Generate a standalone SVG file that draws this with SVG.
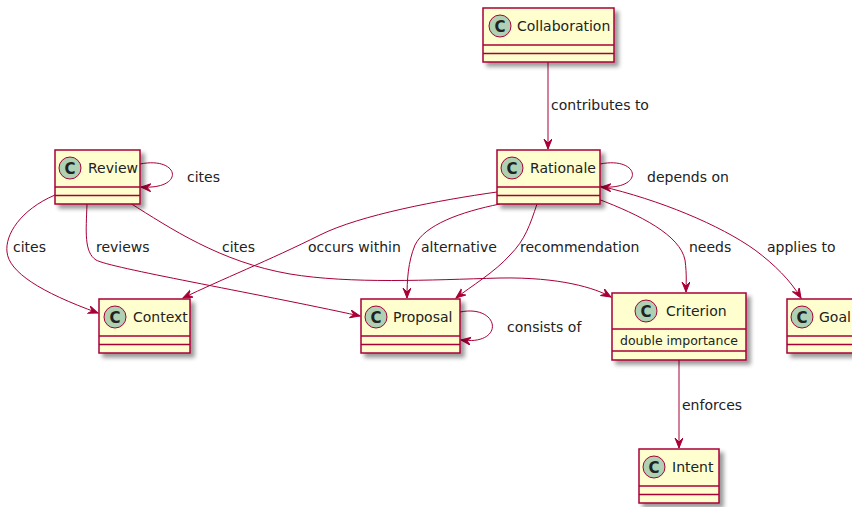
<svg xmlns="http://www.w3.org/2000/svg" width="852" height="507" viewBox="0 0 852 507">
<style>
.box{fill:#FEFECE;stroke:#A80036;stroke-width:1.5}
.sep{stroke:#A80036;stroke-width:1.5}
.circ{fill:#ADD1B2;stroke:#A80036;stroke-width:1}
.cl{font-family:"DejaVu Sans",sans-serif;font-size:15px;font-weight:bold;fill:#222;text-anchor:middle}
.name{font-family:"DejaVu Sans",sans-serif;font-size:14px;fill:#222}
.attr{font-family:"DejaVu Sans",sans-serif;font-size:12.5px;fill:#222}
.lbl{font-family:"DejaVu Sans",sans-serif;font-size:14px;fill:#222}
.edge{fill:none;stroke:#A80036;stroke-width:1;marker-end:url(#arr)}
</style>
<defs>
<filter id="sh" x="-20%" y="-20%" width="150%" height="150%">
<feGaussianBlur in="SourceAlpha" stdDeviation="2"/>
<feOffset dx="4" dy="4" result="b"/>
<feComponentTransfer><feFuncA type="linear" slope="0.4"/></feComponentTransfer>
<feMerge><feMergeNode/><feMergeNode in="SourceGraphic"/></feMerge>
</filter>
<marker id="arr" markerUnits="userSpaceOnUse" markerWidth="12" markerHeight="10" refX="10" refY="4" orient="auto">
<path d="M0,0 L10,4 L0,8 L4,4 Z" fill="#A80036" stroke="#A80036" stroke-width="1"/>
</marker>
</defs>

<g id="connectors">
<path class="edge" d="M548,62 L548,149"/>
<path class="edge" d="M140,164 C180,156 186,190 141,187"/>
<path class="edge" d="M600,164 C640,156 646,190 601,187"/>
<path class="edge" d="M460,312 C500,304 506,346 461,340"/>
<path class="edge" d="M55,195 C20,210 5,235 7,252 C9,272 40,292 98,313"/>
<path class="edge" d="M87,204 C86,232 84,252 96,260 C110,268 250,292 360,316"/>
<path class="edge" d="M130,203 C170,228 220,262 290,274 C350,284 430,280 500,278 C560,277 595,288 611,297"/>
<path class="edge" d="M497,192 C440,200 360,215 320,235 C270,260 220,280 183,298"/>
<path class="edge" d="M500,204 C460,212 425,225 415,245 C408,262 407,280 407,298"/>
<path class="edge" d="M537,204 C530,225 525,240 510,255 C495,272 470,287 456,298"/>
<path class="edge" d="M598,199 C640,215 680,235 685,260 C687,275 686,285 686,292"/>
<path class="edge" d="M600,186 C660,200 720,225 755,250 C775,265 790,280 801,298"/>
<path class="edge" d="M679,360 L679,448"/>
<text class="lbl" x="551" y="110">contributes to</text>
<text class="lbl" x="187" y="182">cites</text>
<text class="lbl" x="647" y="182">depends on</text>
<text class="lbl" x="13" y="252">cites</text>
<text class="lbl" x="96" y="252">reviews</text>
<text class="lbl" x="222" y="252">cites</text>
<text class="lbl" x="308" y="252">occurs within</text>
<text class="lbl" x="421" y="252">alternative</text>
<text class="lbl" x="520" y="252">recommendation</text>
<text class="lbl" x="689" y="252">needs</text>
<text class="lbl" x="767" y="252">applies to</text>
<text class="lbl" x="507" y="332">consists of</text>
<text class="lbl" x="682" y="410">enforces</text>
</g>

<g id="Collaboration">
<rect class="box" x="483" y="8" width="131" height="54" filter="url(#sh)"/>
<line class="sep" x1="483" y1="45" x2="614" y2="45"/>
<line class="sep" x1="483" y1="53.5" x2="614" y2="53.5"/>
<circle class="circ" cx="500" cy="26" r="11"/>
<text class="cl" x="500" y="31.5">C</text>
<text class="name" x="517" y="31">Collaboration</text>
</g>

<g id="Review">
<rect class="box" x="55" y="150" width="85" height="54" filter="url(#sh)"/>
<line class="sep" x1="55" y1="187" x2="140" y2="187"/>
<line class="sep" x1="55" y1="195.5" x2="140" y2="195.5"/>
<circle class="circ" cx="70" cy="168" r="11"/>
<text class="cl" x="70" y="173.5">C</text>
<text class="name" x="88" y="173">Review</text>
</g>

<g id="Rationale">
<rect class="box" x="497" y="150" width="103" height="54" filter="url(#sh)"/>
<line class="sep" x1="497" y1="187" x2="600" y2="187"/>
<line class="sep" x1="497" y1="195.5" x2="600" y2="195.5"/>
<circle class="circ" cx="512" cy="168" r="11"/>
<text class="cl" x="512" y="173.5">C</text>
<text class="name" x="530" y="173">Rationale</text>
</g>

<g id="Context">
<rect class="box" x="99" y="299" width="91" height="54" filter="url(#sh)"/>
<line class="sep" x1="99" y1="336" x2="190" y2="336"/>
<line class="sep" x1="99" y1="344.5" x2="190" y2="344.5"/>
<circle class="circ" cx="115" cy="317" r="11"/>
<text class="cl" x="115" y="322.5">C</text>
<text class="name" x="133" y="322">Context</text>
</g>

<g id="Proposal">
<rect class="box" x="361" y="299" width="99" height="54" filter="url(#sh)"/>
<line class="sep" x1="361" y1="336" x2="460" y2="336"/>
<line class="sep" x1="361" y1="344.5" x2="460" y2="344.5"/>
<circle class="circ" cx="376" cy="317" r="11"/>
<text class="cl" x="376" y="322.5">C</text>
<text class="name" x="393" y="322">Proposal</text>
</g>

<g id="Criterion">
<rect class="box" x="612" y="293" width="134" height="67" filter="url(#sh)"/>
<line class="sep" x1="612" y1="329" x2="746" y2="329"/>
<line class="sep" x1="612" y1="351" x2="746" y2="351"/>
<circle class="circ" cx="646" cy="311" r="11"/>
<text class="cl" x="646" y="316.5">C</text>
<text class="name" x="666" y="316">Criterion</text>
<text class="attr" x="620" y="345">double importance</text>
</g>

<g id="Goal">
<rect class="box" x="787" y="299" width="70" height="54" filter="url(#sh)"/>
<line class="sep" x1="787" y1="336" x2="857" y2="336"/>
<line class="sep" x1="787" y1="344.5" x2="857" y2="344.5"/>
<circle class="circ" cx="802" cy="317" r="11"/>
<text class="cl" x="802" y="322.5">C</text>
<text class="name" x="819" y="322">Goal</text>
</g>

<g id="Intent">
<rect class="box" x="639" y="449" width="80" height="54" filter="url(#sh)"/>
<line class="sep" x1="639" y1="486" x2="719" y2="486"/>
<line class="sep" x1="639" y1="494.5" x2="719" y2="494.5"/>
<circle class="circ" cx="654" cy="467" r="11"/>
<text class="cl" x="654" y="472.5">C</text>
<text class="name" x="672" y="472">Intent</text>
</g>
</svg>
